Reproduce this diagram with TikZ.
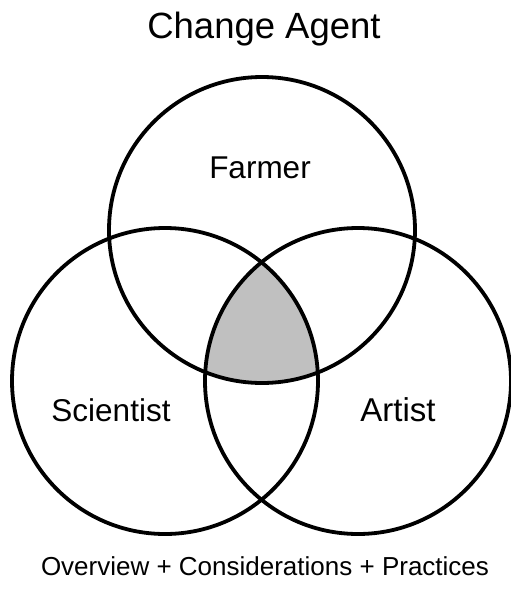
\documentclass[tikz,border=0pt]{standalone}
\usepackage{fontspec}
\setmainfont{Liberation Sans}
\begin{document}
\begin{tikzpicture}[x=1pt,y=-1pt,
  ring/.style={draw=black,line width=3.8pt},
  lab/.style={anchor=base,inner sep=0pt,font=\fontsize{31.5}{36}\selectfont}]
\useasboundingbox[fill=white] (0,0) rectangle (511,595);
\coordinate (cT) at (262,230);
\coordinate (cL) at (165,381);
\coordinate (cR) at (358,381);
\begin{scope}
  \clip (cT) circle (153pt);
  \clip (cL) circle (153pt);
  \fill[fill={rgb,255:red,192;green,192;blue,192}] (cR) circle (153pt);
\end{scope}
\draw[ring] (cT) circle (153pt);
\draw[ring] (cL) circle (153pt);
\draw[ring] (cR) circle (153pt);
\node[lab,font=\fontsize{36.5}{42}\selectfont] (title) at (264,38) {Change Agent};
\node[lab] (farmer) at (260,178) {Farmer};
\node[lab] (scientist) at (111,421) {Scientist};
\node[lab,font=\fontsize{33}{38}\selectfont] (artist) at (398,421) {Artist};
\node[lab,font=\fontsize{26}{30}\selectfont] (foot) at (265,575) {Overview + Considerations + Practices};
\end{tikzpicture}
\end{document}
